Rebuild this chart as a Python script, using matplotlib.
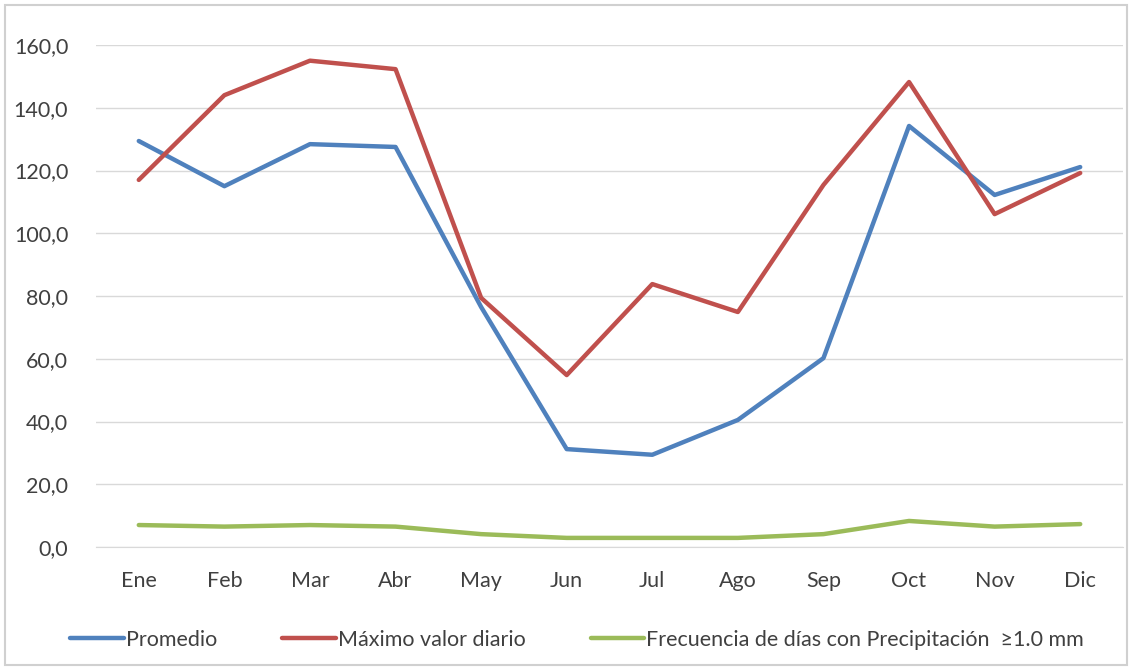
import matplotlib
matplotlib.use("Agg")
import matplotlib.pyplot as plt
from matplotlib.patches import Rectangle
from matplotlib.ticker import FuncFormatter

months = ["Ene", "Feb", "Mar", "Abr", "May", "Jun", "Jul", "Ago", "Sep", "Oct", "Nov", "Dic"]
promedio = [129.4, 115.0, 128.4, 127.5, 76.5, 31.2, 29.4, 40.5, 60.2, 134.2, 112.2, 121.1]
maximo = [117.0, 144.0, 155.0, 152.3, 79.4, 54.8, 83.8, 74.9, 115.4, 148.2, 106.1, 119.2]
frecuencia = [7.0, 6.5, 7.0, 6.5, 4.1, 2.9, 2.9, 2.9, 4.1, 8.3, 6.5, 7.3]

series_labels = ["Promedio", "Máximo valor diario", "Frecuencia de días con Precipitación  ≥1.0 mm"]
colors = ["#4F81BD", "#C0504D", "#9BBB59"]
text_color = "#404040"

plt.rcParams["font.family"] = ["Lato", "DejaVu Sans"]

fig = plt.figure(figsize=(11.32, 6.7), dpi=100)
ax = fig.add_axes([96 / 1132, 1 - 547 / 670, (1123 - 96) / 1132, (547 - 45) / 670])

x = range(len(months))
for vals, label, color in zip([promedio, maximo, frecuencia], series_labels, colors):
    ax.plot(x, vals, color=color, linewidth=3.2, label=label, solid_capstyle="round")

ax.set_xlim(-0.5, len(months) - 0.5)
ax.set_ylim(0, 160)
ax.set_yticks(range(0, 161, 20))
ax.yaxis.set_major_formatter(FuncFormatter(lambda v, _: f"{v:.1f}".replace(".", ",")))
ax.set_xticks(list(x))
ax.set_xticklabels(months)
ax.tick_params(axis="both", length=0, labelsize=15.5, colors=text_color)
ax.tick_params(axis="x", pad=17)
ax.tick_params(axis="y", pad=20)
ax.grid(axis="y", color="#D9D9D9", linewidth=1)
ax.set_axisbelow(True)
for side in ["top", "right", "left"]:
    ax.spines[side].set_visible(False)
ax.spines["bottom"].set_color("#D9D9D9")

leg = fig.legend(loc="center", bbox_to_anchor=(0.51, 1 - 640 / 670), ncol=3, frameon=False,
                 fontsize=15.5, handlelength=2.5, handletextpad=0.1, columnspacing=3.0)
for t in leg.get_texts():
    t.set_color(text_color)

fig.patches.append(Rectangle((5 / 1132, 5 / 670), 1 - 10 / 1132, 1 - 10 / 670,
                             transform=fig.transFigure, fill=False, edgecolor="#D0D0D0", linewidth=1.5))

fig.savefig("out.png", dpi=100)
